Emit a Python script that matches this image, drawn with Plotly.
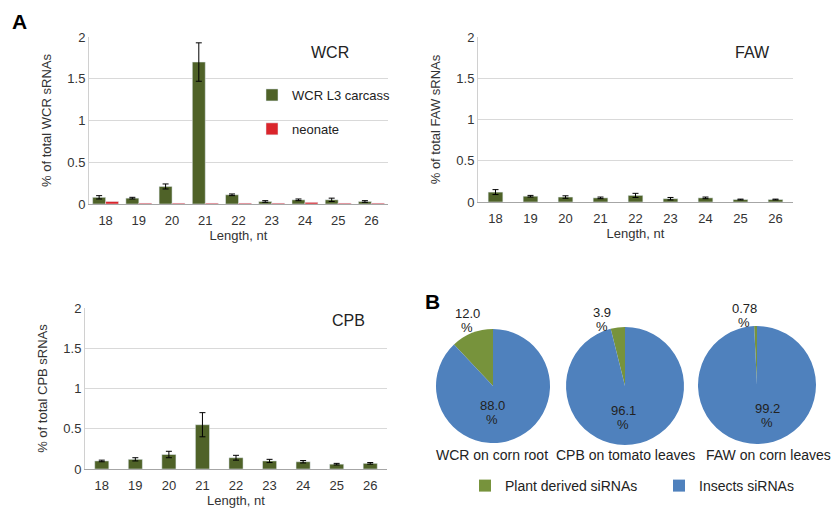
import plotly.graph_objects as go

lengths = ["18", "19", "20", "21", "22", "23", "24", "25", "26"]
wcr_l3 = [0.08, 0.07, 0.21, 1.70, 0.11, 0.03, 0.05, 0.05, 0.03]
wcr_l3_err = [0.02, 0.01, 0.03, 0.23, 0.01, 0.01, 0.01, 0.02, 0.01]
wcr_neonate = [0.03, 0.01, 0.01, 0.01, 0.01, 0.01, 0.02, 0.01, 0.01]
faw = [0.12, 0.07, 0.06, 0.05, 0.08, 0.04, 0.05, 0.03, 0.03]
faw_err = [0.03, 0.01, 0.015, 0.01, 0.025, 0.015, 0.01, 0.005, 0.005]
cpb = [0.10, 0.12, 0.18, 0.55, 0.14, 0.10, 0.09, 0.06, 0.07]
cpb_err = [0.01, 0.02, 0.04, 0.15, 0.03, 0.02, 0.015, 0.01, 0.01]

pie_names = ["WCR on corn root", "CPB on tomato leaves", "FAW on corn leaves"]
plant_pct = [12.0, 3.9, 0.78]
insect_pct = [88.0, 96.1, 99.2]
pie_labels = ["Plant derived siRNAs", "Insects siRNAs"]

GREEN = "#4F6228"
RED = "#DA252B"
PIE_GREEN = "#77933C"
PIE_BLUE = "#4F81BD"
FONT = "Liberation Sans, Arial, sans-serif"
W, H = 835, 513

def px(x):
    return x / W

def py(y):
    return 1 - y / H

fig = go.Figure()
eb = dict(type="data", color="black", thickness=1, width=3)

fig.add_trace(go.Bar(x=lengths, y=wcr_l3, error_y=dict(array=wcr_l3_err, **eb),
                     marker_color=GREEN, name="WCR L3 carcass", width=0.39, offset=-0.39,
                     xaxis="x", yaxis="y", legend="legend", legendgroup="a"))
fig.add_trace(go.Bar(x=lengths, y=wcr_neonate, marker_color=RED, name="neonate",
                     width=0.39, offset=0, xaxis="x", yaxis="y", legend="legend", legendgroup="b"))
fig.add_trace(go.Bar(x=lengths, y=faw, error_y=dict(array=faw_err, **eb), marker_color=GREEN,
                     width=0.42, xaxis="x2", yaxis="y2", showlegend=False))
fig.add_trace(go.Bar(x=lengths, y=cpb, error_y=dict(array=cpb_err, **eb), marker_color=GREEN,
                     width=0.42, xaxis="x3", yaxis="y3", showlegend=False))

pie_boxes = [(436, 550, 329, 443), (566, 684, 327, 445), (698, 816, 326, 444)]
pie_title_x = [492, 625, 768]
outside_lbl = [(467, 313), (602, 312), (744, 308)]
inside_lbl = [(492, 405), (623, 410), (767, 408)]
lbl_font = dict(size=13, color="#222", family=FONT)

for i, name in enumerate(pie_names):
    x0, x1, y0, y1 = pie_boxes[i]
    vals = [plant_pct[i], insect_pct[i]]
    fig.add_trace(go.Pie(
        labels=pie_labels, values=vals, sort=False, direction="clockwise",
        rotation=-plant_pct[i] * 3.6,
        marker=dict(colors=[PIE_GREEN, PIE_BLUE]),
        textinfo="none",
        domain=dict(x=[px(x0), px(x1)], y=[py(y1), py(y0)]),
        legend="legend2", showlegend=True, hoverinfo="label+percent", name=name,
    ))
    fig.add_annotation(x=px(pie_title_x[i]), y=py(455), xref="paper", yref="paper",
                       xanchor="center", yanchor="middle",
                       text=name, showarrow=False, font=dict(size=14, color="#222", family=FONT))
    # slice value labels (number on one line, % below)
    for (lx, ly), v in ((outside_lbl[i], plant_pct[i]), (inside_lbl[i], insect_pct[i])):
        fig.add_annotation(x=px(lx), y=py(ly), xref="paper", yref="paper", xanchor="center",
                           yanchor="middle", text=f"{v}", showarrow=False, font=lbl_font)
        fig.add_annotation(x=px(lx), y=py(ly + 14), xref="paper", yref="paper", xanchor="center",
                           yanchor="middle", text="%", showarrow=False, font=lbl_font)

axis_common = dict(showgrid=False, showline=True, linecolor="#A6A6A6", ticks="", automargin=False,
                   ticklabelstandoff=4, tickfont=dict(size=13, color="#333", family=FONT))
yaxis_common = dict(range=[0, 2], tickvals=[0, 0.5, 1, 1.5, 2], ticktext=["0", "0.5", "1", "1.5", "2"],
                    showgrid=True, gridcolor="#D9D9D9", showline=True, linecolor="#D0D0D0",
                    zeroline=False, ticks="", automargin=False,
                    tickfont=dict(size=13, color="#333", family=FONT))
title_font = dict(size=13, color="#333", family=FONT)

fig.update_layout(
    width=W, height=H, margin=dict(l=0, r=0, t=0, b=0, autoexpand=False),
    paper_bgcolor="white", plot_bgcolor="white", barmode="overlay",
    font=dict(family=FONT, color="#333"),
    xaxis=dict(domain=[px(89), px(388)], anchor="y", title=dict(text="Length, nt", font=title_font, standoff=4), **axis_common),
    yaxis=dict(domain=[py(204), py(37)], anchor="x", title=dict(text="% of total WCR sRNAs", font=title_font, standoff=12), **yaxis_common),
    xaxis2=dict(domain=[px(478), px(793)], anchor="y2", title=dict(text="Length, nt", font=title_font, standoff=4), **axis_common),
    yaxis2=dict(domain=[py(202), py(37)], anchor="x2", title=dict(text="% of total FAW sRNAs", font=title_font, standoff=12), **yaxis_common),
    xaxis3=dict(domain=[px(85), px(387)], anchor="y3", title=dict(text="Length, nt", font=title_font, standoff=4), **axis_common),
    yaxis3=dict(domain=[py(469), py(308)], anchor="x3", title=dict(text="% of total CPB sRNAs", font=title_font, standoff=12), **yaxis_common),
    legend=dict(x=px(252), y=py(80), xanchor="left", yanchor="top", bgcolor="rgba(0,0,0,0)",
                font=dict(size=13, color="#222", family=FONT), tracegroupgap=14, itemwidth=30),
    legend2=dict(orientation="h", x=px(465), y=py(470), xanchor="left", yanchor="top",
                 bgcolor="rgba(0,0,0,0)", font=dict(size=14, color="#222", family=FONT),
                 entrywidth=149, traceorder="normal"),
    showlegend=True,
)

fig.add_annotation(x=px(19), y=py(21), xref="paper", yref="paper", text="<b>A</b>", showarrow=False,
                   xanchor="center", yanchor="middle", font=dict(size=21, color="black", family=FONT))
fig.add_annotation(x=px(432), y=py(301), xref="paper", yref="paper", text="<b>B</b>", showarrow=False,
                   xanchor="center", yanchor="middle", font=dict(size=21, color="black", family=FONT))
for txt, x, y in [("WCR", 330, 52), ("FAW", 752, 52), ("CPB", 348, 320)]:
    fig.add_annotation(x=px(x), y=py(y), xref="paper", yref="paper", text=txt, showarrow=False,
                       xanchor="center", yanchor="middle", font=dict(size=16, color="#222", family=FONT))

fig.write_html("out.html", config={"displayModeBar": False},
               post_script="document.body.style.margin='0';")
